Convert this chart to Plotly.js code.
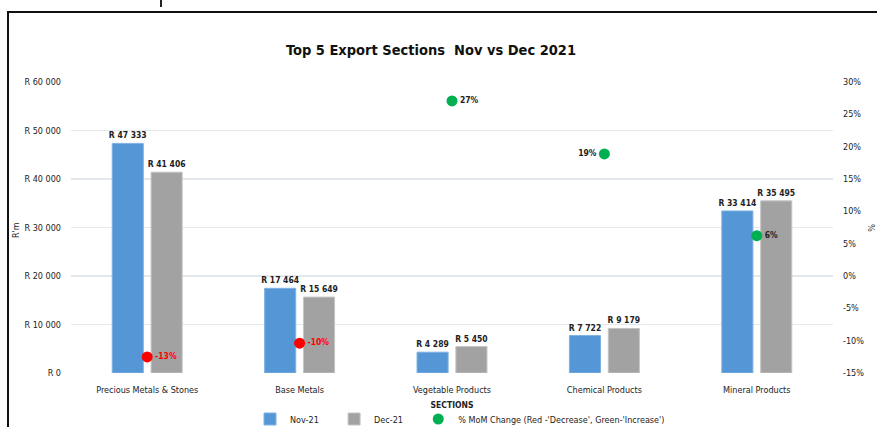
<!DOCTYPE html>
<html>
<head>
<meta charset="utf-8">
<script src="https://cdn.plot.ly/plotly-3.0.1.min.js"></script>
<style>html,body{margin:0;padding:0;background:#fff;}#chart{width:877px;height:427px;}</style>
</head>
<body>
<div id="chart"></div>
<script>
const categories = ['Precious Metals & Stones', 'Base Metals', 'Vegetable Products', 'Chemical Products', 'Mineral Products'];
const nov21 = [47333, 17464, 4289, 7722, 33414];
const dec21 = [41406, 15649, 5450, 9179, 35495];
const momChange = [-12.52, -10.39, 27.07, 18.87, 6.23];
const momLabelSide = ['middle right', 'middle right', 'middle right', 'middle left', 'middle right'];
const leftTicks = [0, 10000, 20000, 30000, 40000, 50000, 60000];
const leftTickText = ['R 0', 'R 10 000', 'R 20 000', 'R 30 000', 'R 40 000', 'R 50 000', 'R 60 000'];
const rightTicks = [-15, -10, -5, 0, 5, 10, 15, 20, 25, 30];
const rightTickText = ['-15%', '-10%', '-5%', '0%', '5%', '10%', '15%', '20%', '25%', '30%'];

const FONT = '"DejaVu Sans Condensed", "Liberation Sans", sans-serif';
const FONTB = '"DejaVu Sans Condensed", "Liberation Sans", sans-serif';
const fmtR = v => 'R ' + String(v).replace(/\B(?=(\d{3})+(?!\d))/g, ' ');
const NB = '\u00a0\u00a0\u00a0\u00a0';

const L = 71, R = 833, T = 82, B = 373, W = 877, H = 427;
const px = x => (x - L) / (R - L);
const py = y => (B - y) / (B - T);

const traces = [
  {
    type: 'bar', name: 'Nov-21' + NB, x: categories, y: nov21,
    text: nov21.map(v => '<b>' + fmtR(v) + '</b>'), textposition: 'outside', cliponaxis: false, constraintext: 'none',
    textfont: {family: FONTB, size: 8.5, color: '#222'},
    marker: {color: '#5597d6', line: {color: '#7fb2e3', width: 1}},
    hoverinfo: 'x+y'
  },
  {
    type: 'bar', name: 'Dec-21' + NB, x: categories, y: dec21,
    text: dec21.map(v => '<b>' + fmtR(v) + '</b>'), textposition: 'outside', cliponaxis: false, constraintext: 'none',
    textfont: {family: FONTB, size: 8.5, color: '#222'},
    marker: {color: '#a2a2a2', line: {color: '#c4c4c4', width: 1}},
    hoverinfo: 'x+y'
  },
  {
    type: 'scatter', mode: 'markers+text', name: "% MoM Change (Red -'Decrease', Green-'Increase')",
    x: categories, y: momChange, yaxis: 'y2', showlegend: false, cliponaxis: false,
    text: momChange.map(v => '<b>' + Math.round(v) + '%</b>'),
    textposition: momLabelSide,
    textfont: {family: FONTB, size: 8.5, color: momChange.map(v => v < 0 ? '#ff0000' : '#222')},
    marker: {size: 11, color: momChange.map(v => v < 0 ? '#ff0000' : '#00b050')}
  },
  {
    type: 'scatter', mode: 'markers', name: "% MoM Change (Red -'Decrease', Green-'Increase')",
    x: [categories[0]], y: [null], yaxis: 'y2', showlegend: true,
    marker: {size: 11, color: '#00b050'}
  }
];

const layout = {
  width: W, height: H,
  margin: {l: L, r: W - R, t: T, b: H - B, pad: 0, autoexpand: false},
  paper_bgcolor: '#fff', plot_bgcolor: '#fff',
  font: {family: FONT, size: 9, color: '#222'},
  title: {text: '<b>Top 5 Export Sections  Nov vs Dec 2021</b>', font: {family: FONTB, size: 14.5, color: '#111'},
          x: 431 / W, xanchor: 'center', y: 1 - 50 / H, yanchor: 'middle'},
  barmode: 'group', bargap: 0.49, bargroupgap: 0.2,
  xaxis: {
    type: 'category', showgrid: false, zeroline: false, showline: false, ticks: '',
    tickfont: {family: FONT, size: 9, color: '#222'}, ticklabelstandoff: 10,
    title: {text: '<b>SECTIONS</b>', font: {family: FONTB, size: 8.5, color: '#222'}, standoff: 8},
    automargin: false
  },
  yaxis: {
    range: [0, 60000], tickvals: leftTicks, ticktext: leftTickText,
    showgrid: true, gridcolor: '#e3e7ee', gridwidth: 1.5, zeroline: false, showline: false, ticks: '',
    tickfont: {family: FONT, size: 9, color: '#222'}, ticklabelstandoff: 9, automargin: false
  },
  yaxis2: {
    overlaying: 'y', side: 'right', range: [-15, 30], tickvals: rightTicks, ticktext: rightTickText,
    showgrid: false, zeroline: false, showline: false, ticks: '',
    tickfont: {family: FONT, size: 9, color: '#222'}, ticklabelstandoff: 9, automargin: false
  },
  legend: {
    orientation: 'h', x: px(250), xanchor: 'left', y: py(419), yanchor: 'middle',
    font: {family: FONT, size: 9, color: '#222'}, bgcolor: 'rgba(0,0,0,0)',
    itemwidth: 30, tracegroupgap: 0
  },
  annotations: [
    {text: "R'm", xref: 'paper', yref: 'paper', x: px(16), y: py(230), showarrow: false, textangle: -90,
     font: {family: FONT, size: 9, color: '#222'}, xanchor: 'center', yanchor: 'middle'},
    {text: '%', xref: 'paper', yref: 'paper', x: px(871), y: py(228), showarrow: false, textangle: 90,
     font: {family: FONT, size: 9, color: '#222'}, xanchor: 'center', yanchor: 'middle'}
  ],
  shapes: [
    {type: 'line', xref: 'paper', yref: 'paper', x0: px(8), x1: px(8), y0: py(12), y1: py(430), line: {color: '#111', width: 2}},
    {type: 'line', xref: 'paper', yref: 'paper', x0: px(7), x1: px(880), y0: py(12), y1: py(12), line: {color: '#111', width: 2}},
    {type: 'line', xref: 'paper', yref: 'paper', x0: px(161), x1: px(161), y0: py(0), y1: py(7), line: {color: '#222', width: 2}}
  ],
  showlegend: true
};

Plotly.newPlot('chart', traces, layout, {staticPlot: true, displayModeBar: false});
</script>
</body>
</html>
